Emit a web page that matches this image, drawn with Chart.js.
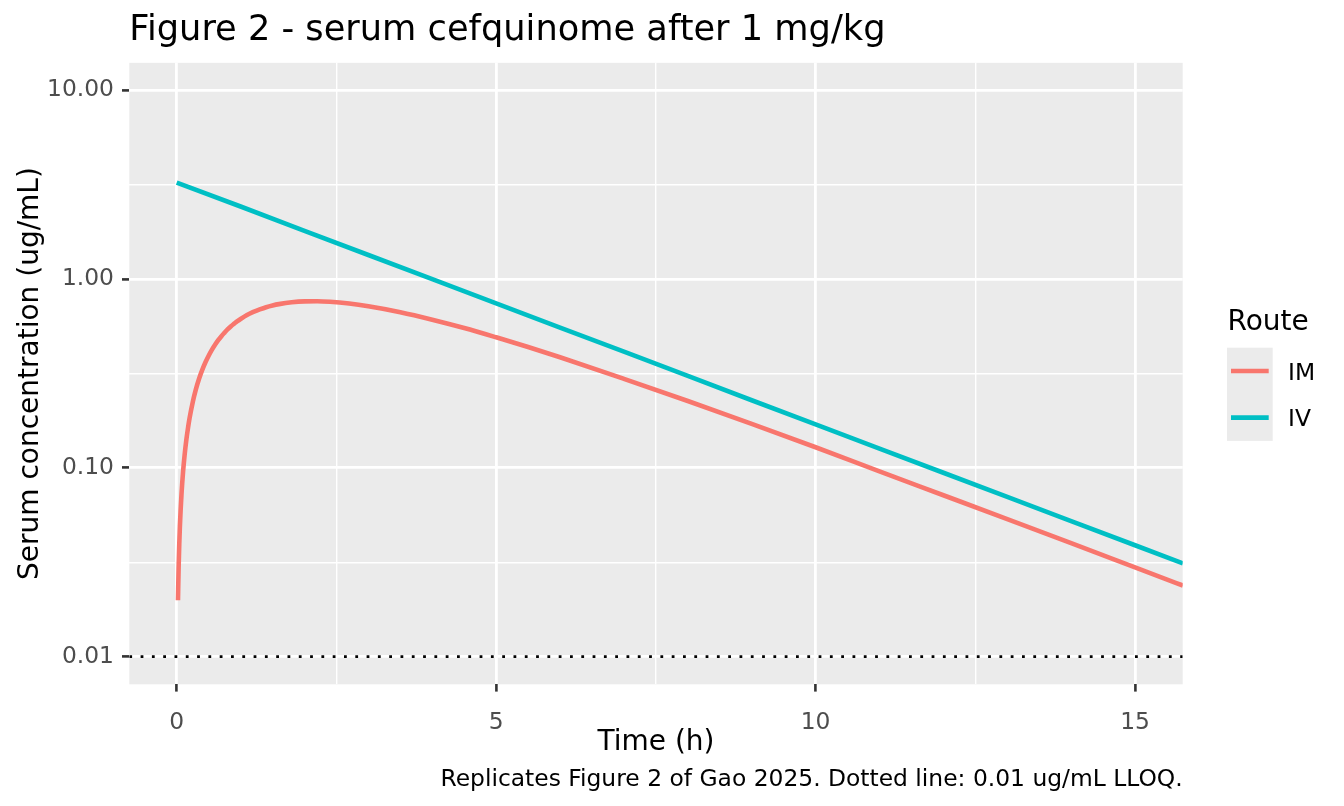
<!DOCTYPE html>
<html>
<head>
<meta charset="utf-8">
<title>Figure 2 - serum cefquinome after 1 mg/kg</title>
<script src="https://cdn.jsdelivr.net/npm/chart.js@4/dist/chart.umd.min.js"></script>
<style>
  html, body { margin: 0; padding: 0; background: #ffffff; }
  #fig { display: block; }
</style>
</head>
<body>
<canvas id="fig" width="1344" height="806"></canvas>
<script>
// Data (serum conc, ug/mL vs time, h)
const routeLabels = ["IM", "IV"];
const routeColors = ["#F8766D", "#00BFC4"];

const imTime = [0.02, 0.03, 0.04, 0.05, 0.075, 0.1, 0.125, 0.15, 0.175, 0.2, 0.25, 0.3, 0.35, 0.4, 0.45, 0.5,
                0.55, 0.6, 0.65, 0.7, 0.75, 0.8, 0.85, 0.9, 0.95, 1.0, 1.1, 1.2, 1.3, 1.4, 1.5, 1.6, 1.8,
                2.0, 2.2, 2.4, 2.7, 3, 3.5, 4, 4.5, 5, 5.5, 6, 7, 8, 9, 10, 11, 12, 13, 14, 15, 15.75];
const imConc = [0.0199, 0.0297, 0.0394, 0.0491, 0.0726, 0.0957, 0.118, 0.140, 0.161, 0.182, 0.222, 0.260, 0.296, 0.330, 0.362, 0.392,
                0.421, 0.448, 0.474, 0.498, 0.520, 0.542, 0.562, 0.580, 0.598, 0.614, 0.644, 0.669, 0.690, 0.709, 0.724, 0.736, 0.753,
                0.761, 0.762, 0.757, 0.741, 0.717, 0.667, 0.609, 0.550, 0.491, 0.436, 0.385, 0.296, 0.226, 0.171, 0.1285, 0.0958, 0.0716, 0.0535, 0.0399, 0.0297, 0.0238];

const ivTime = [0, 1, 2, 3, 4, 5, 6, 7, 8, 9, 10, 11, 12, 13, 14, 15, 15.75];
const ivConc = [3.24, 2.42, 1.80, 1.34, 0.998, 0.743, 0.553, 0.412, 0.307, 0.228, 0.170, 0.1265, 0.0942, 0.0701, 0.0522, 0.0389, 0.0312];

const lloqLevel = 0.01;

// axes
const xMin = -0.742, xMax = 15.746;
const yMin = 0.00714, yMax = 13.95;
const xTicks = [0, 2.5, 5, 7.5, 10, 12.5, 15];
const yTicks = [0.01, 0.0316, 0.1, 0.316, 1, 3.16, 10];
const yTickLabels = {0.01: "0.01", 0.1: "0.10", 1: "1.00", 10: "10.00"};

const FONT = "'DejaVu Sans', 'Liberation Sans', sans-serif";

function xMajor(v) { return Math.abs(v % 5) < 1e-9; }
function yMajor(v) { const l = Math.log10(v); return Math.abs(l - Math.round(l)) < 1e-6; }

const toPoints = (xs, ys) => xs.map((x, i) => ({x: x, y: ys[i]}));

// grey panel like ggplot
const panelBg = {
  id: 'panelBg',
  beforeDraw(chart) {
    const a = chart.chartArea, ctx = chart.ctx;
    ctx.save();
    ctx.fillStyle = '#EBEBEB';
    ctx.fillRect(a.left, a.top, a.right - a.left, a.bottom - a.top);
    ctx.restore();
  }
};

// title starts at the panel edge, not the canvas edge
const titleToPanel = {
  id: 'titleToPanel',
  afterLayout(chart) {
    if (chart.titleBlock) chart.titleBlock.left = chart.chartArea.left;
  }
};

// legend (ggplot style, grey keys) + caption
const sideStuff = {
  id: 'sideStuff',
  afterDraw(chart) {
    const ctx = chart.ctx, a = chart.chartArea;
    const x0 = a.right + 44.3;
    ctx.save();
    ctx.fillStyle = '#000';
    ctx.textAlign = 'left';
    ctx.textBaseline = 'alphabetic';
    ctx.font = "28px " + FONT;
    ctx.fillText("Route", x0 + 0.5, 330);

    const keyTop = 347.7, keyH = 46.6, keyW = 45.7;
    ctx.fillStyle = '#EBEBEB';
    ctx.fillRect(x0, keyTop, keyW, keyH * routeLabels.length);
    routeLabels.forEach((lab, i) => {
      const ds = chart.data.datasets.find(d => d.label === lab);
      const cy = keyTop + keyH * i + keyH / 2;
      ctx.strokeStyle = ds.borderColor;
      ctx.lineWidth = ds.borderWidth;
      ctx.beginPath();
      ctx.moveTo(x0 + 4, cy);
      ctx.lineTo(x0 + keyW - 4, cy);
      ctx.stroke();
      ctx.fillStyle = '#000';
      ctx.font = "23.4px " + FONT;
      ctx.fillText(lab, x0 + 61, cy + 8.5);
    });

    ctx.font = "23.4px " + FONT;
    ctx.textAlign = 'right';
    ctx.fillText("Replicates Figure 2 of Gao 2025. Dotted line: 0.01 ug/mL LLOQ.", a.right, 786);
    ctx.restore();
  }
};

new Chart(document.getElementById('fig'), {
  type: 'line',
  data: {
    datasets: [
      {
        label: routeLabels[0],
        data: toPoints(imTime, imConc),
        borderColor: routeColors[0],
        borderWidth: 4.6,
        pointRadius: 0,
        cubicInterpolationMode: 'monotone',
        borderJoinStyle: 'round'
      },
      {
        label: routeLabels[1],
        data: toPoints(ivTime, ivConc),
        borderColor: routeColors[1],
        borderWidth: 4.6,
        pointRadius: 0,
        tension: 0,
        borderJoinStyle: 'round'
      },
      {
        label: 'LLOQ',
        data: [{x: xMin, y: lloqLevel}, {x: xMax, y: lloqLevel}],
        borderColor: '#000000',
        borderWidth: 2.8,
        borderDash: [2.8, 8.5],
        borderCapStyle: 'butt',
        pointRadius: 0
      }
    ]
  },
  options: {
    responsive: false,
    animation: false,
    devicePixelRatio: 1,
    layout: { padding: { left: 0, top: 0, right: 161.3, bottom: 0 } },
    plugins: {
      legend: { display: false },
      tooltip: { enabled: false },
      title: {
        display: true,
        text: "Figure 2 - serum cefquinome after 1 mg/kg",
        align: 'start',
        color: '#000',
        font: { family: FONT, size: 35.2, weight: 'normal', lineHeight: 1.2 },
        padding: { top: 10, bottom: 10.6 }
      }
    },
    scales: {
      x: {
        type: 'linear',
        min: xMin,
        max: xMax,
        afterBuildTicks: s => { s.ticks = xTicks.map(v => ({value: v})); },
        afterFit: s => { s.height = 806 - 684.3; },
        ticks: {
          autoSkip: false,
          maxRotation: 0,
          padding: 17,
          color: '#4D4D4D',
          font: { family: FONT, size: 23.4 },
          callback: v => xMajor(v) ? String(v) : ''
        },
        grid: {
          color: '#FFFFFF',
          lineWidth: c => (c.tick && !xMajor(c.tick.value)) ? 1.4 : 2.8,
          tickColor: c => (c.tick && xMajor(c.tick.value)) ? '#333333' : 'rgba(0,0,0,0)',
          tickWidth: 2.6,
          tickLength: 7.3
        },
        border: { display: false },
        title: {
          display: true,
          text: 'Time (h)',
          color: '#000',
          font: { family: FONT, size: 28, lineHeight: 1.2 },
          padding: { top: 0, bottom: 46.5 }
        }
      },
      y: {
        type: 'logarithmic',
        min: yMin,
        max: yMax,
        bounds: 'data',
        afterBuildTicks: s => { s.ticks = yTicks.map(v => ({value: v})); },
        afterFit: s => { s.width = 129.3; },
        ticks: {
          autoSkip: false,
          padding: 8,
          color: '#4D4D4D',
          font: { family: FONT, size: 23.4 },
          callback: v => yTickLabels[v] || ''
        },
        grid: {
          color: '#FFFFFF',
          lineWidth: c => (c.tick && !yMajor(c.tick.value)) ? 1.4 : 2.8,
          tickColor: c => (c.tick && yMajor(c.tick.value)) ? '#333333' : 'rgba(0,0,0,0)',
          tickWidth: 2.6,
          tickLength: 7.3
        },
        border: { display: false },
        title: {
          display: true,
          text: 'Serum concentration (ug/mL)',
          color: '#000',
          font: { family: FONT, size: 28, lineHeight: 1.2 },
          padding: { top: 14, bottom: 0 }
        }
      }
    }
  },
  plugins: [panelBg, titleToPanel, sideStuff]
});
</script>
</body>
</html>
